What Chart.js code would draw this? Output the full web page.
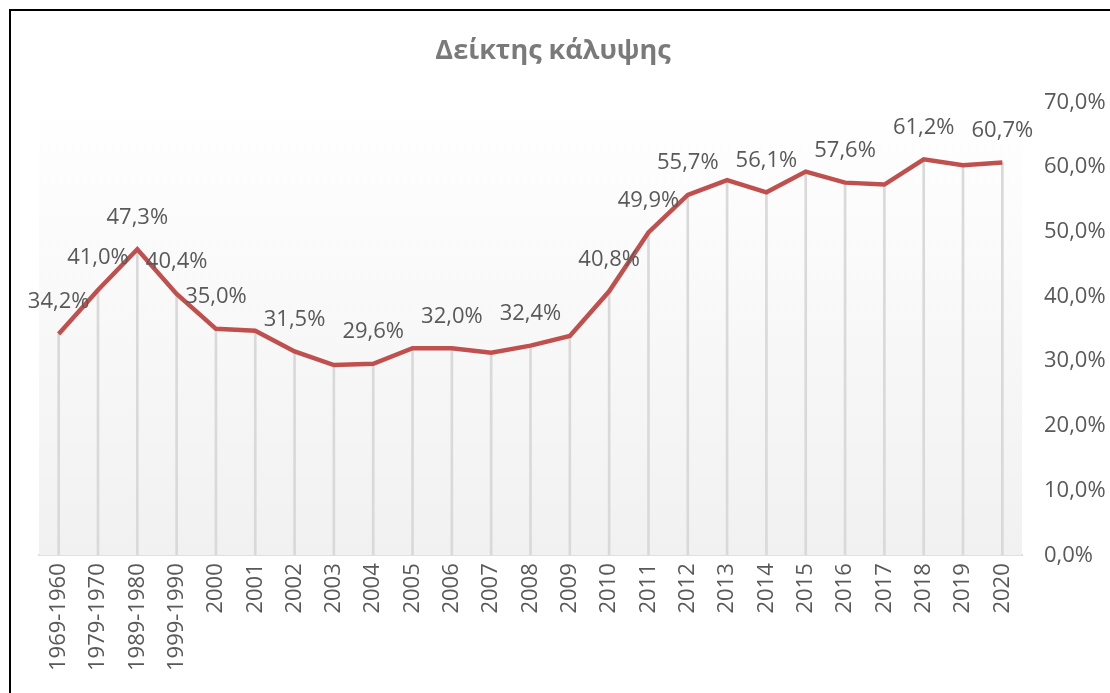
<!DOCTYPE html>
<html>
<head>
<meta charset="utf-8">
<script src="https://cdn.jsdelivr.net/npm/chart.js@4.4.1/dist/chart.umd.min.js"></script>
<style>
  html, body { margin: 0; padding: 0; background: #ffffff; }
  #wrap { position: relative; width: 1110px; height: 693px; overflow: hidden; }
  #frame { position: absolute; left: 9px; top: 9px; width: 1200px; height: 800px;
           border-left: 2px solid #000; border-top: 2px solid #000; pointer-events: none; }
  canvas { position: absolute; left: 0; top: 0; }
</style>
</head>
<body>
<div id="wrap">
  <canvas id="c" width="1110" height="693"></canvas>
  <div id="frame"></div>
</div>
<script>
const titleText = 'Δείκτης κάλυψης';
const categories = ['1969-1960','1979-1970','1989-1980','1999-1990','2000','2001','2002','2003','2004','2005','2006','2007','2008','2009','2010','2011','2012','2013','2014','2015','2016','2017','2018','2019','2020'];
const coverage = [34.2, 41.0, 47.3, 40.4, 35.0, 34.7, 31.5, 29.4, 29.6, 32.0, 32.0, 31.3, 32.4, 33.9, 40.8, 49.9, 55.7, 58.0, 56.1, 59.3, 57.6, 57.3, 61.2, 60.3, 60.7];
const labelledCategories = ['1969-1960','1979-1970','1989-1980','1999-1990','2000','2002','2004','2006','2008','2010','2011','2012','2014','2016','2018','2020'];
const yTicks = [0, 10, 20, 30, 40, 50, 60, 70];

const FONT = "'Open Sans', 'Noto Sans', sans-serif";
const fmt = v => v.toFixed(1).replace('.', ',') + '%';

const plotBackground = {
  id: 'plotBackground',
  beforeDatasetsDraw(chart) {
    const { ctx, chartArea: a } = chart;
    const g = ctx.createLinearGradient(0, a.top, 0, a.bottom);
    g.addColorStop(0, 'rgba(255,255,255,1)');
    g.addColorStop(1, 'rgba(241,241,241,1)');
    ctx.save();
    ctx.fillStyle = g;
    ctx.fillRect(a.left, a.top, a.right - a.left, a.bottom - a.top);
    ctx.restore();
  }
};

const valueLabels = {
  id: 'valueLabels',
  afterDatasetsDraw(chart) {
    const { ctx } = chart;
    const meta = chart.getDatasetMeta(0);
    ctx.save();
    ctx.font = '22px ' + FONT;
    ctx.fillStyle = '#595959';
    ctx.textAlign = 'center';
    ctx.textBaseline = 'middle';
    meta.data.forEach((pt, i) => {
      if (labelledCategories.includes(categories[i])) {
        ctx.fillText(fmt(coverage[i]), pt.x, pt.y - 32);
      }
    });
    ctx.restore();
  }
};

new Chart(document.getElementById('c'), {
  type: 'line',
  data: {
    labels: categories,
    datasets: [
      {
        type: 'line',
        data: coverage,
        borderColor: '#c0504d',
        borderWidth: 4.5,
        pointRadius: 0,
        tension: 0,
        fill: false,
        order: 0
      },
      {
        type: 'bar',
        data: coverage,
        backgroundColor: '#d9d9d9',
        barThickness: 2,
        order: 1
      }
    ]
  },
  options: {
    responsive: false,
    animation: false,
    events: [],
    layout: { padding: { top: 14, left: 0, right: 4, bottom: 14 } },
    plugins: {
      legend: { display: false },
      tooltip: { enabled: false },
      title: {
        display: true,
        text: titleText,
        color: '#7a7a7a',
        font: { family: FONT, size: 27, weight: 'bold' },
        padding: { top: 21, bottom: 35 }
      }
    },
    scales: {
      x: {
        offset: true,
        grid: { display: false, drawTicks: false },
        border: { display: true, color: '#d9d9d9', width: 2 },
        ticks: {
          color: '#595959',
          font: { family: FONT, size: 22 },
          minRotation: 90,
          maxRotation: 90,
          autoSkip: false,
          padding: 8
        }
      },
      y: {
        position: 'right',
        min: 0,
        max: 70,
        grid: { display: false, drawTicks: false },
        border: { display: false },
        afterBuildTicks(scale) { scale.ticks = yTicks.map(v => ({ value: v })); },
        afterFit(scale) { scale.width = 84; },
        ticks: {
          color: '#595959',
          font: { family: FONT, size: 22 },
          padding: 22,
          callback: v => fmt(v)
        }
      },
      yLeft: {
        position: 'left',
        display: true,
        grid: { display: false, drawTicks: false },
        border: { display: false },
        ticks: { display: false },
        afterFit(scale) { scale.width = 39; }
      }
    }
  },
  plugins: [plotBackground, valueLabels]
});
</script>
</body>
</html>
